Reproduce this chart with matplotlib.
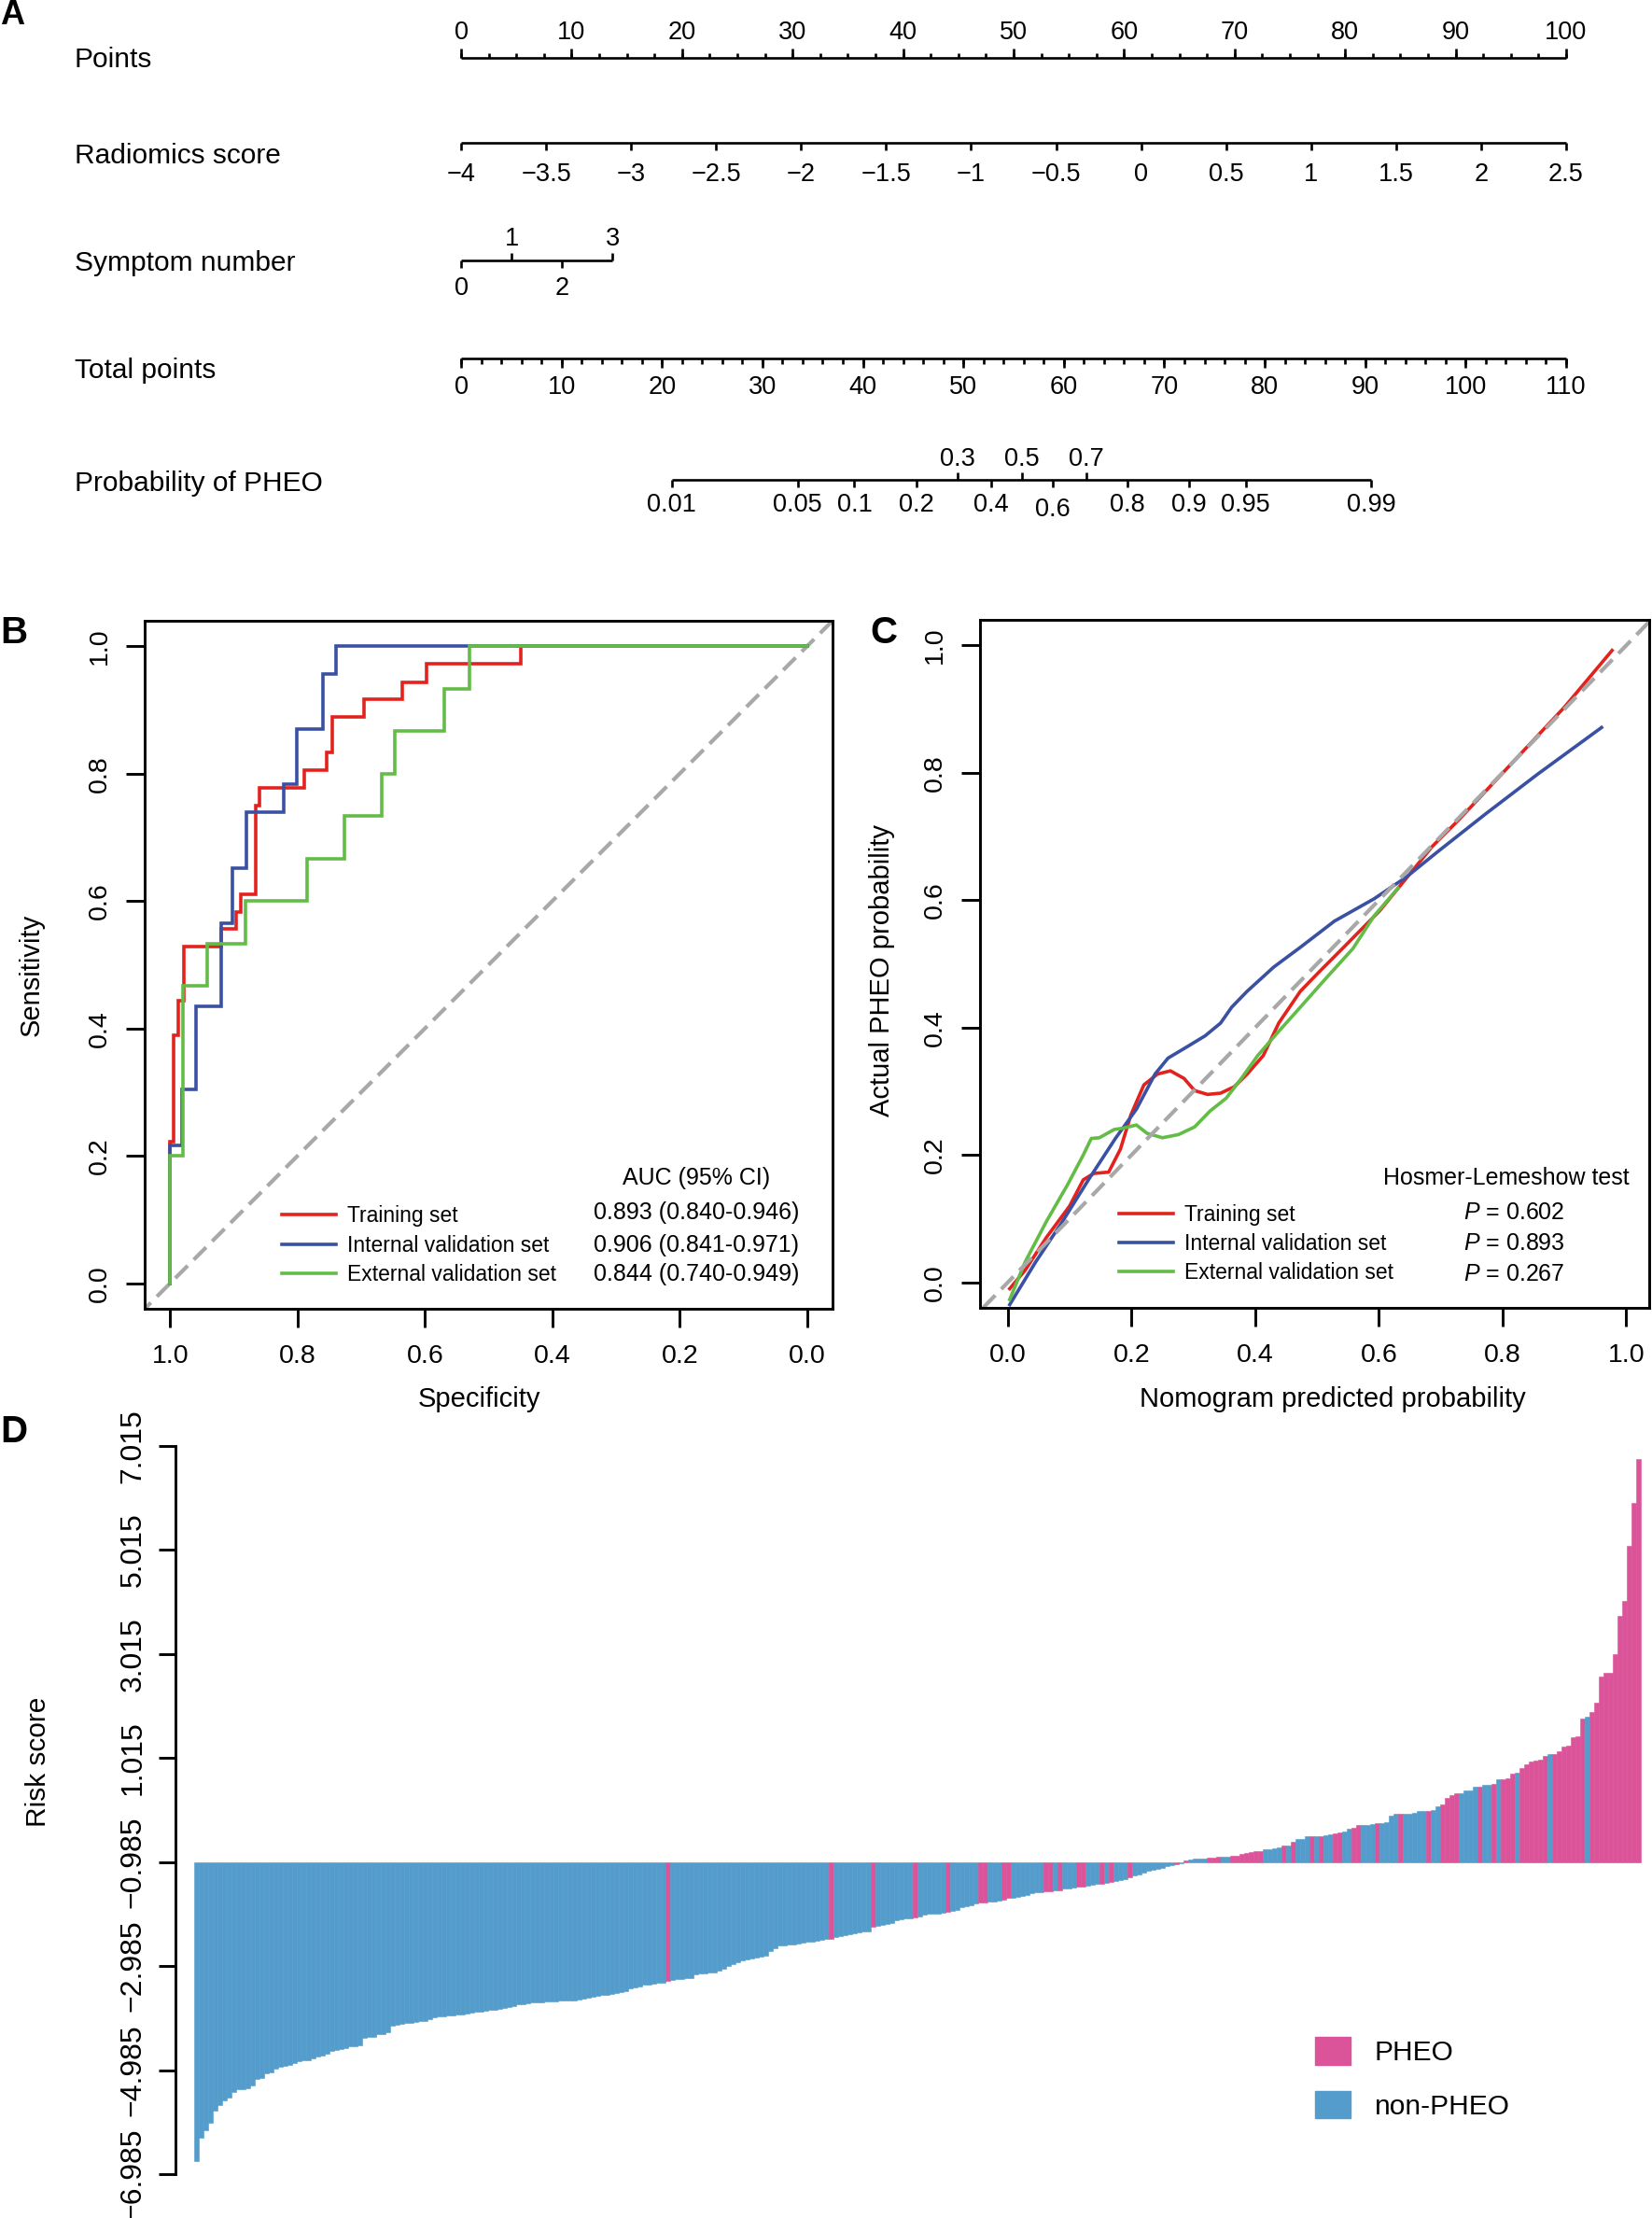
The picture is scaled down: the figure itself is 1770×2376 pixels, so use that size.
import numpy as np
import matplotlib
matplotlib.use("Agg")
import matplotlib.pyplot as plt
import matplotlib.transforms as mtransforms
from matplotlib.patches import Patch

plt.rcParams['font.family'] = ['Liberation Sans', 'DejaVu Sans']
plt.rcParams['mathtext.fontset'] = 'custom'
plt.rcParams['mathtext.rm'] = 'Liberation Sans'
plt.rcParams['mathtext.it'] = 'Liberation Sans:italic'

W, H = 1770, 2376

RED = '#E3221E'
BLUE = '#3A51A3'
GREEN = '#63BC46'
GREY = '#A8A8A8'
PINK = '#DB5399'
SKY = '#539CCB'

# ---------------- A: nomogram ----------------
row_names = ['Points', 'Radiomics score', 'Symptom number', 'Total points', 'Probability of PHEO']
points_ticks = [0, 10, 20, 30, 40, 50, 60, 70, 80, 90, 100]
radiomics_ticks = [-4, -3.5, -3, -2.5, -2, -1.5, -1, -0.5, 0, 0.5, 1, 1.5, 2, 2.5]
symptom_levels = [0, 1, 2, 3]
symptom_points = [0, 4.57, 9.13, 13.7]
total_ticks = [0, 10, 20, 30, 40, 50, 60, 70, 80, 90, 100, 110]
prob_ticks = [0.01, 0.05, 0.1, 0.2, 0.3, 0.4, 0.5, 0.6, 0.7, 0.8, 0.9, 0.95, 0.99]
prob_labels = ['0.01', '0.05', '0.1', '0.2', '0.3', '0.4', '0.5', '0.6', '0.7', '0.8', '0.9', '0.95', '0.99']
prob_above = [0.3, 0.5, 0.7]
lp_slope = 0.132    # logit per total point
lp_center = 55.8    # total points where p = 0.5

# ---------------- B: ROC ----------------
roc_train_spec = [1.0, 1.0, 0.994, 0.994, 0.987, 0.987, 0.979, 0.979, 0.920, 0.920, 0.897, 0.897,
                  0.889, 0.889, 0.866, 0.866, 0.860, 0.860, 0.790, 0.790, 0.754, 0.754, 0.746, 0.746,
                  0.696, 0.696, 0.635, 0.635, 0.597, 0.597, 0.449, 0.449, 0.0]
roc_train_sens = [0.0, 0.222, 0.222, 0.389, 0.389, 0.444, 0.444, 0.528, 0.528, 0.556, 0.556, 0.583,
                  0.583, 0.611, 0.611, 0.750, 0.750, 0.778, 0.778, 0.806, 0.806, 0.833, 0.833, 0.889,
                  0.889, 0.917, 0.917, 0.944, 0.944, 0.972, 0.972, 1.0, 1.0]
roc_int_spec = [1.0, 1.0, 0.981, 0.981, 0.960, 0.960, 0.920, 0.920, 0.902, 0.902, 0.881, 0.881,
                0.822, 0.822, 0.801, 0.801, 0.760, 0.760, 0.740, 0.740, 0.0]
roc_int_sens = [0.0, 0.217, 0.217, 0.304, 0.304, 0.435, 0.435, 0.565, 0.565, 0.652, 0.652, 0.739,
                0.739, 0.783, 0.783, 0.870, 0.870, 0.957, 0.957, 1.0, 1.0]
roc_ext_spec = [1.0, 1.0, 0.980, 0.980, 0.942, 0.942, 0.882, 0.882, 0.785, 0.785, 0.727, 0.727,
                0.668, 0.668, 0.648, 0.648, 0.569, 0.569, 0.530, 0.530, 0.0]
roc_ext_sens = [0.0, 0.200, 0.200, 0.467, 0.467, 0.533, 0.533, 0.600, 0.600, 0.667, 0.667, 0.733,
                0.733, 0.800, 0.800, 0.867, 0.867, 0.933, 0.933, 1.0, 1.0]
set_names = ['Training set', 'Internal validation set', 'External validation set']
auc_text = ['0.893 (0.840-0.946)', '0.906 (0.841-0.971)', '0.844 (0.740-0.949)']
hl_text = ['0.602', '0.893', '0.267']

# ---------------- C: calibration ----------------
cal_train_x = [0.003, 0.028, 0.062, 0.100, 0.122, 0.139, 0.163, 0.182, 0.199, 0.220, 0.242, 0.263,
               0.285, 0.302, 0.323, 0.344, 0.366, 0.387, 0.413, 0.438, 0.473, 0.503, 0.541, 0.601,
               0.644, 0.686, 0.729, 0.815, 0.900, 0.977]
cal_train_y = [-0.010, 0.019, 0.070, 0.120, 0.161, 0.171, 0.173, 0.209, 0.263, 0.310, 0.327, 0.332,
               0.320, 0.301, 0.295, 0.297, 0.307, 0.327, 0.356, 0.407, 0.457, 0.487, 0.524, 0.583,
               0.634, 0.684, 0.726, 0.815, 0.903, 0.992]
cal_int_x = [0.003, 0.045, 0.088, 0.131, 0.174, 0.208, 0.238, 0.259, 0.285, 0.319, 0.344, 0.362,
             0.387, 0.430, 0.473, 0.528, 0.592, 0.644, 0.695, 0.772, 0.857, 0.960]
cal_int_y = [-0.035, 0.032, 0.095, 0.162, 0.226, 0.272, 0.327, 0.352, 0.367, 0.387, 0.407, 0.432,
             0.457, 0.495, 0.526, 0.567, 0.602, 0.636, 0.676, 0.735, 0.798, 0.871]
cal_ext_x = [0.003, 0.028, 0.062, 0.097, 0.122, 0.135, 0.148, 0.172, 0.186, 0.208, 0.225, 0.250,
             0.276, 0.302, 0.327, 0.353, 0.379, 0.404, 0.438, 0.473, 0.515, 0.558, 0.592, 0.631]
cal_ext_y = [-0.027, 0.032, 0.095, 0.154, 0.200, 0.226, 0.227, 0.240, 0.242, 0.247, 0.234, 0.227,
             0.232, 0.244, 0.269, 0.289, 0.322, 0.356, 0.394, 0.432, 0.478, 0.524, 0.575, 0.619]

# ---------------- D: risk score waterfall ----------------
risk_score = [
    -6.74, -6.29, -6.15, -6.00, -5.77, -5.65, -5.56, -5.51, -5.41, -5.36,
    -5.35, -5.34, -5.28, -5.15, -5.14, -5.04, -5.03, -4.96, -4.92, -4.90,
    -4.88, -4.85, -4.82, -4.80, -4.79, -4.76, -4.73, -4.71, -4.67, -4.62,
    -4.60, -4.58, -4.56, -4.53, -4.52, -4.51, -4.36, -4.35, -4.35, -4.30,
    -4.29, -4.25, -4.13, -4.12, -4.09, -4.08, -4.07, -4.06, -4.05, -4.04,
    -4.00, -3.97, -3.96, -3.95, -3.94, -3.93, -3.92, -3.92, -3.89, -3.88,
    -3.87, -3.86, -3.85, -3.83, -3.82, -3.80, -3.79, -3.78, -3.75, -3.72,
    -3.71, -3.70, -3.69, -3.68, -3.68, -3.67, -3.67, -3.66, -3.65, -3.65,
    -3.64, -3.64, -3.63, -3.61, -3.59, -3.57, -3.55, -3.54, -3.53, -3.52,
    -3.50, -3.49, -3.47, -3.42, -3.40, -3.37, -3.35, -3.34, -3.32, -3.31,
    -3.30, -3.27, -3.26, -3.24, -3.23, -3.22, -3.21, -3.14, -3.12, -3.12,
    -3.11, -3.10, -3.07, -3.03, -2.99, -2.95, -2.91, -2.87, -2.85, -2.83,
    -2.82, -2.80, -2.79, -2.70, -2.65, -2.59, -2.59, -2.57, -2.57, -2.56,
    -2.53, -2.52, -2.51, -2.49, -2.48, -2.47, -2.46, -2.42, -2.41, -2.39,
    -2.38, -2.36, -2.33, -2.32, -2.32, -2.23, -2.21, -2.19, -2.17, -2.15,
    -2.11, -2.09, -2.07, -2.06, -2.05, -2.03, -1.99, -1.98, -1.97, -1.97,
    -1.96, -1.95, -1.93, -1.90, -1.85, -1.83, -1.81, -1.78, -1.77, -1.76,
    -1.75, -1.74, -1.72, -1.70, -1.68, -1.67, -1.65, -1.63, -1.61, -1.59,
    -1.57, -1.56, -1.55, -1.54, -1.53, -1.52, -1.50, -1.49, -1.48, -1.46,
    -1.45, -1.43, -1.42, -1.41, -1.40, -1.39, -1.37, -1.35, -1.33, -1.31,
    -1.28, -1.25, -1.22, -1.19, -1.16, -1.13, -1.11, -1.09, -1.07, -1.05,
    -1.02, -1.00, -0.96, -0.94, -0.92, -0.91, -0.91, -0.90, -0.90, -0.89,
    -0.88, -0.88, -0.87, -0.86, -0.83, -0.81, -0.80, -0.78, -0.77, -0.74,
    -0.73, -0.72, -0.70, -0.67, -0.66, -0.60, -0.55, -0.54, -0.49, -0.49,
    -0.48, -0.48, -0.47, -0.46, -0.44, -0.41, -0.39, -0.34, -0.32, -0.28,
    -0.28, -0.28, -0.25, -0.24, -0.23, -0.22, -0.10, -0.06, -0.06, -0.05,
    -0.05, -0.04, -0.01, -0.01, 0.00, 0.02, 0.09, 0.12, 0.24, 0.30,
    0.34, 0.34, 0.39, 0.40, 0.46, 0.47, 0.50, 0.50, 0.52, 0.60,
    0.61, 0.62, 0.72, 0.74, 0.82, 0.89, 0.95, 0.97, 0.99, 1.06,
    1.10, 1.10, 1.15, 1.24, 1.26, 1.42, 1.43, 1.77, 1.81, 1.90,
    2.08, 2.58, 2.65, 2.66, 3.01, 3.75, 4.03, 5.09, 5.92, 6.76,
]
is_pheo = [
    0, 0, 0, 0, 0, 0, 0, 0, 0, 0,  0, 0, 0, 0, 0, 0, 0, 0, 0, 0,
    0, 0, 0, 0, 0, 0, 0, 0, 0, 0,  0, 0, 0, 0, 0, 0, 0, 0, 0, 0,
    0, 0, 0, 0, 0, 0, 0, 0, 0, 0,  0, 0, 0, 0, 0, 0, 0, 0, 0, 0,
    0, 0, 0, 0, 0, 0, 0, 0, 0, 0,  0, 0, 0, 0, 0, 0, 0, 0, 0, 0,
    0, 0, 0, 0, 0, 0, 0, 0, 0, 0,  0, 0, 0, 0, 0, 0, 0, 0, 0, 0,
    0, 1, 0, 0, 0, 0, 0, 0, 0, 0,  0, 0, 0, 0, 0, 0, 0, 0, 0, 0,
    0, 0, 0, 0, 0, 0, 0, 0, 0, 0,  0, 0, 0, 0, 0, 0, 1, 0, 0, 0,
    0, 0, 0, 0, 0, 1, 0, 0, 0, 0,  0, 0, 0, 0, 1, 0, 0, 0, 0, 0,
    0, 1, 0, 0, 0, 0, 0, 0, 1, 1,  0, 0, 0, 1, 1, 0, 0, 0, 0, 0,
    0, 0, 1, 1, 0, 1, 0, 0, 0, 1,  1, 0, 0, 0, 1, 0, 1, 0, 0, 0,
    1, 0, 0, 0, 0, 0, 0, 0, 0, 0,  1, 0, 1, 0, 0, 0, 0, 1, 1, 1,
    0, 0, 1, 1, 1, 1, 1, 1, 1, 0,  0, 0, 0, 1, 0, 1, 0, 0, 0, 1,
    0, 1, 0, 0, 1, 1, 0, 0, 1, 1,  0, 0, 0, 1, 0, 0, 0, 0, 1, 0,
    0, 0, 0, 0, 1, 0, 0, 1, 1, 1,  1, 0, 0, 0, 0, 1, 0, 0, 1, 0,
    1, 1, 1, 0, 1, 1, 1, 1, 1, 1,  0, 1, 1, 1, 1, 1, 1, 1, 0, 1,
    1, 1, 1, 1, 1, 1, 1, 1, 1, 1,
]
risk_cutoff = -0.985
risk_ticks = [-6.985, -4.985, -2.985, -0.985, 1.015, 3.015, 5.015, 7.015]

fig = plt.figure(figsize=(W / 100, H / 100), dpi=100)


def fbox(x0, y0, x1, y1):
    # pixel box (top-left origin) -> figure fraction rect
    return [x0 / W, 1 - y1 / H, (x1 - x0) / W, (y1 - y0) / H]


# ---------- panel A ----------
axA = fig.add_axes(fbox(0, 0, W, 600))
px_per_pt = 11.84
x0_px = 494
axA.set_xlim(-x0_px / px_per_pt, (W - x0_px) / px_per_pt)
axA.set_ylim(600, 0)
axA.axis('off')
lw_n = 1.9
kw = dict(color='black', lw=lw_n)
fs_tick = 19.5

row_tr = mtransforms.blended_transform_factory(axA.transAxes, axA.transData)
for name, ylab in zip(row_names, [64, 167, 282, 397, 518]):
    axA.text(80 / W, ylab, name, transform=row_tr, fontsize=21.5, ha='left', va='center')

# points
y = 62
axA.plot([0, 100], [y, y], solid_capstyle='butt', **kw)
axA.vlines(np.arange(0, 100.01, 2.5), y - 5, y, **kw)
axA.vlines(points_ticks, y - 10, y, **kw)
for t in points_ticks:
    axA.text(t, 35, str(t), ha='center', va='center', fontsize=fs_tick)

# radiomics score
y = 153
rmin, rmax = radiomics_ticks[0], radiomics_ticks[-1]
rad_pts = [(r - rmin) / (rmax - rmin) * 100 for r in radiomics_ticks]
axA.plot([0, 100], [y, y], solid_capstyle='butt', **kw)
axA.vlines(rad_pts, y, y + 8, **kw)
for r, xp in zip(radiomics_ticks, rad_pts):
    lab = ('%g' % r).replace('-', '\u2212')
    axA.text(xp, 187, lab, ha='center', va='center', fontsize=fs_tick)

# symptom number
y = 279
axA.plot([symptom_points[0], symptom_points[-1]], [y, y], solid_capstyle='butt', **kw)
for lev, xp in zip(symptom_levels, symptom_points):
    if lev % 2 == 1:
        axA.vlines(xp, y - 8, y, **kw)
        axA.text(xp, 256, str(lev), ha='center', va='center', fontsize=fs_tick)
    else:
        axA.vlines(xp, y, y + 8, **kw)
        axA.text(xp, 309, str(lev), ha='center', va='center', fontsize=fs_tick)

# total points
y = 384
tscale = 100 / total_ticks[-1]
axA.plot([0, 100], [y, y], solid_capstyle='butt', **kw)
axA.vlines(np.arange(0, 110.01, 2) * tscale, y, y + 5.5, **kw)
axA.vlines(np.array(total_ticks) * tscale, y, y + 10, **kw)
for t in total_ticks:
    axA.text(t * tscale, 415, str(t), ha='center', va='center', fontsize=fs_tick)

# probability
y = 514
p = np.array(prob_ticks)
prob_pos = (lp_center + np.log(p / (1 - p)) / lp_slope) * tscale
axA.plot([prob_pos[0], prob_pos[-1]], [y, y], solid_capstyle='butt', **kw)
for pv, xp, lab in zip(prob_ticks, prob_pos, prob_labels):
    if pv in prob_above:
        axA.vlines(xp, y - 8, y, **kw)
        axA.text(xp, 492, lab, ha='center', va='center', fontsize=fs_tick)
    else:
        axA.vlines(xp, y, y + 8, **kw)
        yl = 546 if lab == '0.6' else 541
        axA.text(xp, yl, lab, ha='center', va='center', fontsize=fs_tick)


def style_box(ax, xt, yt):
    ax.set_xticks(xt)
    ax.set_xticklabels(['%.1f' % v for v in xt])
    ax.set_yticks(yt)
    ax.set_yticklabels(['%.1f' % v for v in yt])
    for s in ax.spines.values():
        s.set_linewidth(2.1)
    ax.tick_params(axis='both', length=14.5, width=2.1, labelsize=20.5)
    ax.tick_params(axis='x', pad=13)
    ax.tick_params(axis='y', pad=11)
    for lab in ax.get_yticklabels():
        lab.set_rotation(90)
        lab.set_va('center')


leg_kw = dict(loc='upper left', frameon=False, fontsize=16.5, handlelength=2.53,
              handletextpad=0.5, labelspacing=0.36, borderpad=0, borderaxespad=0)

# ---------- panel B ----------
axB = fig.add_axes(fbox(155, 665, 892, 1402))
axB.axline((1, 0), (0, 1), color=GREY, lw=3.0, ls=(0, (4.5, 2.2)))
hB = []
for sx, sy, c, nm in [(roc_train_spec, roc_train_sens, RED, set_names[0]),
                      (roc_int_spec, roc_int_sens, BLUE, set_names[1]),
                      (roc_ext_spec, roc_ext_sens, GREEN, set_names[2])]:
    ln, = axB.plot(sx, sy, color=c, lw=2.6, label=nm, solid_joinstyle='miter')
    hB.append(ln)
axB.set_xlim(1.04, -0.04)
axB.set_ylim(-0.04, 1.04)
style_box(axB, [1.0, 0.8, 0.6, 0.4, 0.2, 0.0], [0.0, 0.2, 0.4, 0.6, 0.8, 1.0])
axB.text(0.4868, -0.131, 'Specificity', transform=axB.transAxes, fontsize=21,
         ha='center', va='center')
axB.text(-0.165, 0.485, 'Sensitivity', transform=axB.transAxes, fontsize=21,
         ha='center', va='center', rotation=90)
axB.legend(handles=hB, bbox_to_anchor=(0.2, 0.150), **leg_kw)
axB.text(0.8023, 0.190, 'AUC (95% CI)', transform=axB.transAxes, fontsize=18,
         ha='center', va='center')
for t, yy in zip(auc_text, [0.1398, 0.0928, 0.0507]):
    axB.text(0.8023, yy, t, transform=axB.transAxes, fontsize=18, ha='center', va='center')

# ---------- panel C ----------
axC = fig.add_axes(fbox(1050, 664, 1767, 1401))
hC = []
for sx, sy, c, nm in [(cal_train_x, cal_train_y, RED, set_names[0]),
                      (cal_int_x, cal_int_y, BLUE, set_names[1]),
                      (cal_ext_x, cal_ext_y, GREEN, set_names[2])]:
    ln, = axC.plot(sx, sy, color=c, lw=2.6, label=nm)
    hC.append(ln)
axC.axline((0, 0), (1, 1), color=GREY, lw=3.0, ls=(0, (4.5, 2.2)))
axC.set_xlim(-0.045, 1.037)
axC.set_ylim(-0.04, 1.04)
style_box(axC, [0.0, 0.2, 0.4, 0.6, 0.8, 1.0], [0.0, 0.2, 0.4, 0.6, 0.8, 1.0])
axC.text(0.527, -0.133, 'Nomogram predicted probability', transform=axC.transAxes,
         fontsize=21, ha='center', va='center')
axC.text(-0.147, 0.491, 'Actual PHEO probability', transform=axC.transAxes, fontsize=21,
         ha='center', va='center', rotation=90)
axC.legend(handles=hC, bbox_to_anchor=(0.2085, 0.151), **leg_kw)
axC.text(0.787, 0.189, 'Hosmer-Lemeshow test', transform=axC.transAxes, fontsize=18,
         ha='center', va='center')
for t, yy in zip(hl_text, [0.1384, 0.0931, 0.0494]):
    axC.text(0.722, yy, '$P$ = ' + t, transform=axC.transAxes, fontsize=18,
             ha='left', va='center')

# ---------- panel D ----------
axD = fig.add_axes(fbox(188, 1549, W, 2329))
vals = np.array(risk_score)
idx = np.arange(len(vals))
cols = [PINK if f else SKY for f in is_pheo]
axD.bar(idx, vals - risk_cutoff, bottom=risk_cutoff, width=1.0, align='edge',
        color=cols, edgecolor=cols, linewidth=0.4)
axD.set_xlim(-4, (W - 208) / 5)
axD.set_ylim(risk_ticks[0], risk_ticks[-1])
for s in ['top', 'right', 'bottom']:
    axD.spines[s].set_visible(False)
axD.spines['left'].set_linewidth(2.1)
axD.spines['left'].set_bounds(risk_ticks[0], risk_ticks[-1])
axD.set_xticks([])
axD.set_yticks(risk_ticks)
axD.set_yticklabels([('%.3f' % v).replace('-', '\u2212') for v in risk_ticks])
axD.tick_params(axis='y', length=13, width=2.1, labelsize=23, pad=9)
for lab in axD.get_yticklabels():
    lab.set_rotation(90)
    lab.set_va('center')
axD.text(-0.0929, 0.5667, 'Risk score', transform=axD.transAxes, fontsize=21.5,
         ha='center', va='center', rotation=90)
axD.legend(handles=[Patch(color=PINK), Patch(color=SKY)], labels=['PHEO', 'non-PHEO'],
           loc='upper left', bbox_to_anchor=(0.7718, 0.1885), frameon=False, fontsize=21.5,
           handlelength=1.26, handleheight=1.15, handletextpad=0.87, labelspacing=0.9,
           borderpad=0, borderaxespad=0)

# panel letters
for letter, xp, yp, fs in [('A', 0, 26, 26), ('B', 0, 689, 29), ('C', 932, 689, 29),
                           ('D', 0, 1545, 29)]:
    fig.text(xp / W, 1 - yp / H, letter, fontsize=fs, fontweight='bold',
             ha='left', va='baseline')

fig.savefig('out.png', dpi=100)
